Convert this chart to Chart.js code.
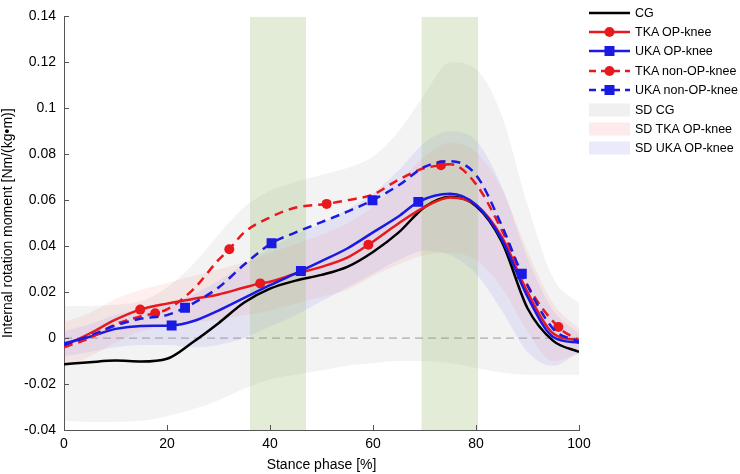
<!DOCTYPE html>
<html>
<head>
<meta charset="utf-8">
<script src="https://cdn.jsdelivr.net/npm/chart.js@4/dist/chart.umd.min.js"></script>
<style>
    html, body { margin: 0; padding: 0; background: #fff; }
    #wrap { position: relative; width: 740px; height: 474px; }
    #legend { position: absolute; left: 589px; top: 3px; font: 12.5px "Liberation Sans", Arial, sans-serif; color: #000; }
    .item { height: 19.4px; display: flex; align-items: center; white-space: nowrap; }
    .item svg { width: 42px; height: 14px; margin-right: 4px; flex: none; }
</style>
</head>
<body>
<div id="wrap">
    <canvas id="momentChart" width="740" height="474"></canvas>
    <div id="legend"></div>
</div>
<script>
// stance phase grid (%)
const phase = [0, 5, 10, 15, 20, 25, 30, 35, 40, 45, 50, 55, 60, 65, 70, 75, 80, 85, 90, 95, 100];

// mean curves
const cg       = [-0.0114, -0.0105, -0.0098, -0.0102, -0.009, -0.0018, 0.0065, 0.0155, 0.0215, 0.025, 0.0275, 0.031, 0.0375, 0.046, 0.057, 0.0615, 0.0575, 0.042, 0.013, -0.0012, -0.006];
const tkaOp    = [-0.0033, 0.002, 0.008, 0.0125, 0.015, 0.017, 0.019, 0.022, 0.0245, 0.028, 0.031, 0.035, 0.042, 0.050, 0.057, 0.0612, 0.058, 0.044, 0.02, 0.002, -0.001];
const ukaOp    = [-0.0023, 0.0006, 0.004, 0.0053, 0.0056, 0.0073, 0.012, 0.0175, 0.023, 0.028, 0.0335, 0.039, 0.046, 0.053, 0.0605, 0.0628, 0.058, 0.043, 0.018, 0.0005, -0.002];
const tkaNonOp = [-0.004, 0.0, 0.006, 0.0095, 0.0125, 0.021, 0.034, 0.046, 0.0525, 0.0568, 0.058, 0.060, 0.0625, 0.069, 0.074, 0.0757, 0.067, 0.047, 0.023, 0.007, -0.001];
const ukaNonOp = [-0.003, 0.001, 0.0055, 0.0085, 0.010, 0.015, 0.022, 0.032, 0.040, 0.046, 0.0505, 0.055, 0.060, 0.0665, 0.0745, 0.077, 0.071, 0.049, 0.021, 0.004, -0.0015];

// marker positions
const tkaOpMarkX    = [14.8, 38.1, 59.1];
const tkaOpMarkY    = [0.0124, 0.0238, 0.0406];
const ukaOpMarkX    = [20.9, 46, 68.8];
const ukaOpMarkY    = [0.0055, 0.0292, 0.0593];
const tkaNonOpMarkX = [17.7, 32.1, 51, 73.2, 96];
const tkaNonOpMarkY = [0.0108, 0.0387, 0.0584, 0.0752, 0.0048];
const ukaNonOpMarkX = [23.5, 40.3, 59.9, 88.9];
const ukaNonOpMarkY = [0.0132, 0.0413, 0.060, 0.028];

// SD bands
const sdCgUpper  = [0.014, 0.014, 0.0145, 0.016, 0.022, 0.032, 0.045, 0.057, 0.064, 0.068, 0.071, 0.074, 0.079, 0.09, 0.106, 0.12, 0.117, 0.097, 0.058, 0.026, 0.015];
const sdCgLower  = [-0.036, -0.0365, -0.0365, -0.036, -0.034, -0.031, -0.027, -0.022, -0.018, -0.016, -0.014, -0.012, -0.011, -0.01, -0.01, -0.011, -0.013, -0.015, -0.016, -0.016, -0.016];
const sdTkaUpper = [0.007, 0.011, 0.017, 0.021, 0.024, 0.027, 0.03, 0.033, 0.037, 0.041, 0.045, 0.05, 0.057, 0.068, 0.079, 0.085, 0.081, 0.065, 0.038, 0.015, 0.004];
const sdTkaLower = [-0.013, -0.008, -0.002, 0.003, 0.005, 0.007, 0.008, 0.01, 0.012, 0.015, 0.018, 0.021, 0.027, 0.032, 0.036, 0.037, 0.034, 0.022, 0.003, -0.01, -0.007];
const sdUkaUpper = [0.003, 0.006, 0.01, 0.013, 0.015, 0.019, 0.025, 0.032, 0.039, 0.045, 0.05, 0.056, 0.063, 0.073, 0.085, 0.09, 0.086, 0.066, 0.035, 0.012, 0.002];
const sdUkaLower = [-0.008, -0.006, -0.004, -0.003, -0.003, -0.004, -0.003, 0.0, 0.005, 0.01, 0.016, 0.022, 0.028, 0.034, 0.038, 0.036, 0.028, 0.012, -0.006, -0.012, -0.006];

// shaded phases (%)
const phaseBands = [[36.1, 47.0], [69.4, 80.4]];

const RED = 'rgb(232, 24, 28)';
const BLUE = 'rgb(26, 26, 228)';
const FONT = '"Liberation Sans", Arial, sans-serif';

function curvePoints(values, markX, markY) {
    const pts = [];
    phase.forEach((x, i) => {
        if (!markX.some(m => Math.abs(m - x) < 1.5)) pts.push({ x: x, y: values[i], mark: false });
    });
    markX.forEach((x, i) => pts.push({ x: x, y: markY[i], mark: true }));
    return pts.sort((a, b) => a.x - b.x);
}

function bandPoints(values) {
    return phase.map((x, i) => ({ x: x, y: values[i] }));
}

function lineSet(label, pts, color, dashed, style, order) {
    const size = style === 'rect' ? 7 : 5;
    return {
        label: label,
        data: pts,
        borderColor: color,
        backgroundColor: color,
        borderWidth: 2.5,
        borderDash: dashed ? [9, 6] : [],
        pointStyle: style,
        pointRadius: (c) => (c.raw && c.raw.mark ? size : 0),
        pointBorderWidth: 0,
        cubicInterpolationMode: 'monotone',
        fill: false,
        order: order
    };
}

function bandSets(upper, lower, color, startIdx) {
    return [
        { label: '', data: bandPoints(lower), borderWidth: 0, pointRadius: 0, fill: false, cubicInterpolationMode: 'monotone', order: 30 },
        { label: '', data: bandPoints(upper), borderWidth: 0, pointRadius: 0, backgroundColor: color, fill: startIdx, cubicInterpolationMode: 'monotone', order: 30 }
    ];
}

const datasets = [];
datasets.push(...bandSets(sdCgUpper, sdCgLower, 'rgba(120, 120, 120, 0.085)', 0));
datasets.push(...bandSets(sdTkaUpper, sdTkaLower, 'rgba(255, 110, 110, 0.11)', 2));
datasets.push(...bandSets(sdUkaUpper, sdUkaLower, 'rgba(110, 110, 255, 0.12)', 4));

phaseBands.forEach(b => {
    datasets.push({
        label: '',
        data: [{ x: b[0], y: 0.14 }, { x: b[1], y: 0.14 }],
        borderWidth: 0,
        pointRadius: 0,
        backgroundColor: 'rgba(158, 192, 118, 0.3)',
        fill: 'start',
        order: 20
    });
});

datasets.push({
    label: '',
    data: [{ x: 0, y: 0 }, { x: 100, y: 0 }],
    borderColor: '#9a9a9a',
    borderWidth: 1,
    borderDash: [8, 5],
    pointRadius: 0,
    fill: false,
    order: 15
});

datasets.push(lineSet('CG', curvePoints(cg, [], []), '#000', false, 'circle', 5));
datasets.push(lineSet('TKA OP-knee', curvePoints(tkaOp, tkaOpMarkX, tkaOpMarkY), RED, false, 'circle', 4));
datasets.push(lineSet('UKA OP-knee', curvePoints(ukaOp, ukaOpMarkX, ukaOpMarkY), BLUE, false, 'rect', 3));
datasets.push(lineSet('TKA non-OP-knee', curvePoints(tkaNonOp, tkaNonOpMarkX, tkaNonOpMarkY), RED, true, 'circle', 2));
datasets.push(lineSet('UKA non-OP-knee', curvePoints(ukaNonOp, ukaNonOpMarkX, ukaNonOpMarkY), BLUE, true, 'rect', 1));

const innerTicks = {
    id: 'innerTicks',
    afterDraw(chart) {
        const { ctx, chartArea, scales } = chart;
        ctx.save();
        ctx.strokeStyle = '#555';
        ctx.lineWidth = 1;
        scales.x.ticks.forEach(t => {
            const px = Math.round(scales.x.getPixelForValue(t.value)) + 0.5;
            ctx.beginPath();
            ctx.moveTo(px, chartArea.bottom);
            ctx.lineTo(px, chartArea.bottom - 5);
            ctx.stroke();
        });
        scales.y.ticks.forEach(t => {
            const py = Math.round(scales.y.getPixelForValue(t.value)) + 0.5;
            ctx.beginPath();
            ctx.moveTo(chartArea.left, py);
            ctx.lineTo(chartArea.left + 5, py);
            ctx.stroke();
        });
        ctx.restore();
    }
};

new Chart(document.getElementById('momentChart'), {
    type: 'line',
    data: { datasets: datasets },
    options: {
        responsive: false,
        animation: false,
        layout: { padding: { left: 0, top: 7, right: 161, bottom: 0 } },
        plugins: { legend: { display: false }, tooltip: { enabled: false } },
        scales: {
            x: {
                type: 'linear',
                min: 0,
                max: 100,
                afterFit: (s) => { s.height = 44; },
                ticks: { stepSize: 20, padding: 6, color: '#000', font: { family: FONT, size: 14 } },
                grid: { drawOnChartArea: false, drawTicks: false },
                border: { color: '#555' },
                title: { display: true, text: 'Stance phase [%]', color: '#000', font: { family: FONT, size: 14 }, padding: { top: 0, bottom: 0 } }
            },
            y: {
                min: -0.04,
                max: 0.14,
                afterFit: (s) => { s.width = 64; },
                ticks: {
                    stepSize: 0.02,
                    padding: 8,
                    color: '#000',
                    font: { family: FONT, size: 14 },
                    callback: (v) => String(parseFloat(v.toFixed(2)))
                },
                grid: { drawOnChartArea: false, drawTicks: false },
                border: { color: '#555' },
                title: { display: true, text: 'Internal rotation moment [Nm/(kg\u2022m)]', color: '#000', font: { family: FONT, size: 14 }, padding: { top: 0, bottom: 2 } }
            }
        }
    },
    plugins: [innerTicks]
});

// legend
const legendItems = [
    { text: 'CG', color: '#000', dash: false, marker: null },
    { text: 'TKA OP-knee', color: RED, dash: false, marker: 'circle' },
    { text: 'UKA OP-knee', color: BLUE, dash: false, marker: 'rect' },
    { text: 'TKA non-OP-knee', color: RED, dash: true, marker: 'circle' },
    { text: 'UKA non-OP-knee', color: BLUE, dash: true, marker: 'rect' },
    { text: 'SD CG', fill: '#f0f0f0' },
    { text: 'SD TKA OP-knee', fill: '#fdeaea' },
    { text: 'SD UKA OP-knee', fill: '#eaeafa' }
];

const legendEl = document.getElementById('legend');
legendItems.forEach(item => {
    let svg;
    if (item.fill) {
        svg = `<svg viewBox="0 0 42 14"><rect x="0" y="0.5" width="41" height="13" fill="${item.fill}"/></svg>`;
    } else {
        let marker = '';
        if (item.marker === 'circle') marker = `<circle cx="20.5" cy="7" r="5" fill="${item.color}"/>`;
        if (item.marker === 'rect') marker = `<rect x="15.5" y="2" width="10" height="10" fill="${item.color}"/>`;
        const dash = item.dash ? 'stroke-dasharray="7 5"' : '';
        svg = `<svg viewBox="0 0 42 14"><line x1="0" y1="7" x2="41" y2="7" stroke="${item.color}" stroke-width="2.5" ${dash}/>${marker}</svg>`;
    }
    const row = document.createElement('div');
    row.className = 'item';
    row.innerHTML = svg + '<span>' + item.text + '</span>';
    legendEl.appendChild(row);
});
</script>
</body>
</html>
